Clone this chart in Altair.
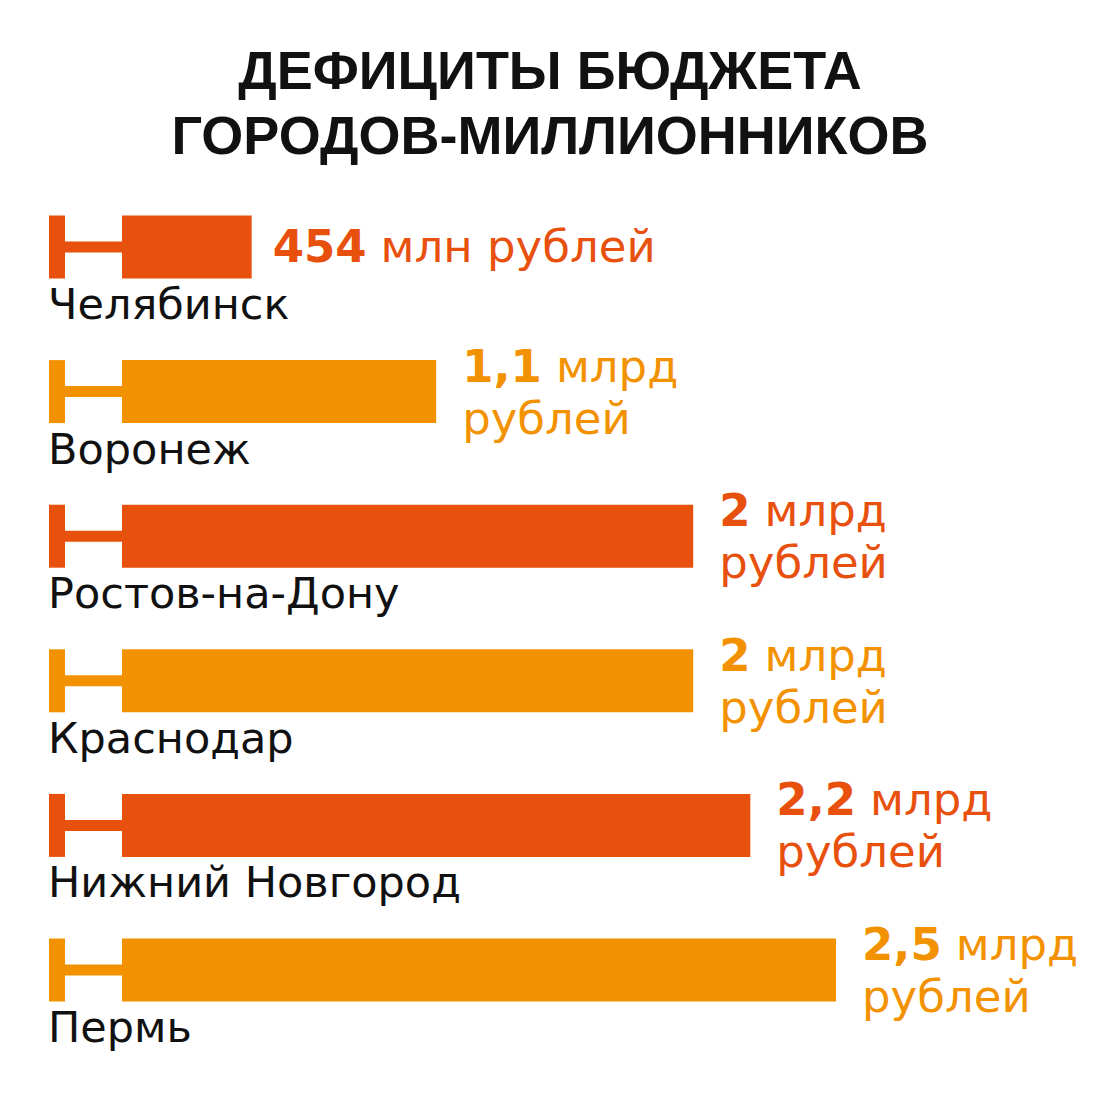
import altair as alt
import pandas as pd

# ---- data ----
title_lines = ["ДЕФИЦИТЫ БЮДЖЕТА", "ГОРОДОВ-МИЛЛИОННИКОВ"]
cities = ["Челябинск", "Воронеж", "Ростов-на-Дону", "Краснодар", "Нижний Новгород", "Пермь"]
deficit_bln = [0.454, 1.1, 2.0, 2.0, 2.2, 2.5]
value_nums = ["454", "1,1", "2", "2", "2,2", "2,5"]
value_units = ["млн рублей", "млрд", "млрд", "млрд", "млрд", "млрд"]
value_units2 = ["", "рублей", "рублей", "рублей", "рублей", "рублей"]

RED = "#E8500E"
ORANGE = "#F39200"
bar_colors = [RED, ORANGE, RED, ORANGE, RED, ORANGE]

df = pd.DataFrame({
    "city": cities,
    "value": deficit_bln,
    "num": value_nums,
    "unit": value_units,
    "unit2": value_units2,
    "color": bar_colors,
})

# ---- layout ----
X0, X1 = 114, 828
PX_PER = (X1 - X0) / 2.5
LABEL_DX = 26
VAL_SIZE = 45
DIGIT_W = 0.696 * VAL_SIZE
COMMA_W = 0.38 * VAL_SIZE
GAP = 14
FONT = "DejaVu Sans"

xs = alt.Scale(domain=[0, 2.5], range=[X0, X1])
ys = alt.Scale(type="point", domain=cities, range=[239, 962], padding=0)

x = alt.X("value:Q", scale=xs, axis=None)
y = alt.Y("city:N", scale=ys, axis=None)
col = alt.Color("color:N", scale=None, legend=None)

base = alt.Chart(df)

cap = base.mark_rule(strokeWidth=63, strokeCap="butt").encode(
    x=alt.value(41), x2=alt.value(57), y=y, color=col)
connector = base.mark_rule(strokeWidth=11, strokeCap="butt").encode(
    x=alt.value(56), x2=alt.value(X0 + 1), y=y, color=col)
bars = base.mark_rule(strokeWidth=63, strokeCap="butt").encode(
    x=x, x2=alt.datum(0), y=y, color=col)

city_text = base.mark_text(align="left", baseline="alphabetic", dy=72,
                           font=FONT, fontSize=43, color="#111111").encode(
    x=alt.value(40), y=y, text="city:N")

unit_x_expr = (
    f"datum.value + ({LABEL_DX} + length(replace(datum.num, ',', '')) * {DIGIT_W}"
    f" + (indexof(datum.num, ',') >= 0 ? {COMMA_W} : 0) + {GAP}) / {PX_PER}"
)

one = base.transform_filter("datum.unit2 == ''")
two = base.transform_filter("datum.unit2 != ''")

num1 = one.mark_text(align="left", baseline="alphabetic", dx=LABEL_DX - 5, dy=15,
                     font=FONT, fontSize=VAL_SIZE, fontWeight="bold").encode(
    x=x, y=y, text="num:N", color=col)
unit1 = one.transform_calculate(ux=unit_x_expr + f" - 5 / {PX_PER}").mark_text(
    align="left", baseline="alphabetic", dy=15, font=FONT, fontSize=VAL_SIZE).encode(
    x=alt.X("ux:Q", scale=xs, axis=None), y=y, text="unit:N", color=col)

num2 = two.mark_text(align="left", baseline="alphabetic", dx=LABEL_DX, dy=-10,
                     font=FONT, fontSize=VAL_SIZE, fontWeight="bold").encode(
    x=x, y=y, text="num:N", color=col)
unit2a = two.transform_calculate(ux=unit_x_expr).mark_text(
    align="left", baseline="alphabetic", dy=-10, font=FONT, fontSize=VAL_SIZE).encode(
    x=alt.X("ux:Q", scale=xs, axis=None), y=y, text="unit:N", color=col)
unit2b = two.mark_text(align="left", baseline="alphabetic", dx=LABEL_DX, dy=42,
                       font=FONT, fontSize=VAL_SIZE).encode(
    x=x, y=y, text="unit2:N", color=col)

one_row = alt.Data(values=[{"k": 0}])
title1 = alt.Chart(one_row).mark_text(
    align="center", baseline="alphabetic", font="Liberation Sans",
    fontSize=54, fontWeight="bold", color="#111111").encode(
    x=alt.value(542), y=alt.value(81), text=alt.value(title_lines[0]))
title2 = alt.Chart(one_row).mark_text(
    align="center", baseline="alphabetic", font="Liberation Sans",
    fontSize=54, fontWeight="bold", color="#111111").encode(
    x=alt.value(542), y=alt.value(146), text=alt.value(title_lines[1]))

chart = alt.layer(
    cap, connector, bars, city_text, num1, unit1, num2, unit2a, unit2b, title1, title2
).properties(
    width=1084, height=1084,
    autosize=alt.AutoSizeParams(type="none"),
    padding=0,
    background="white",
).configure_view(stroke=None)

chart.save("out.html", embed_options={"renderer": "svg", "actions": False})
